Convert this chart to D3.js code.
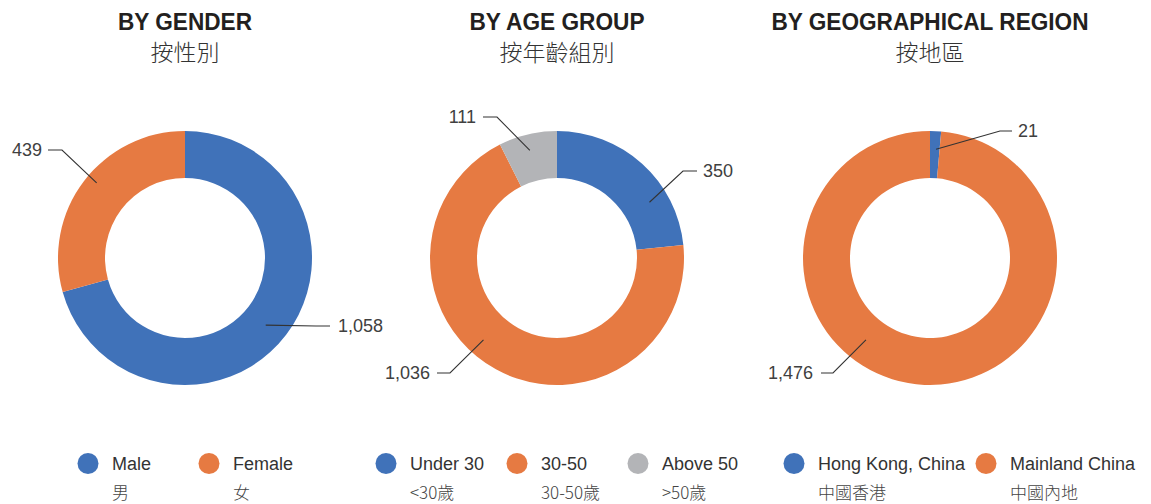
<!DOCTYPE html>
<html>
<head>
<meta charset="utf-8">
<script src="https://cdn.jsdelivr.net/npm/d3@7"></script>
<style>
  html, body { margin: 0; padding: 0; background: #fff; }
  svg { display: block; }
</style>
</head>
<body>
<svg id="chart" width="1151" height="504"></svg>
<script>
// ---- DATA ----
const genderLabels = ["Male", "Female"];
const genderLabelsZh = ["男", "女"];
const genderValues = [1058, 439];

const ageLabels = ["Under 30", "30-50", "Above 50"];
const ageLabelsZh = ["<30歲", "30-50歲", ">50歲"];
const ageValues = [350, 1036, 111];

const regionLabels = ["Hong Kong, China", "Mainland China"];
const regionLabelsZh = ["中國香港", "中國內地"];
const regionValues = [21, 1476];

const titlesEn = ["BY GENDER", "BY AGE GROUP", "BY GEOGRAPHICAL REGION"];
const titlesZh = ["按性別", "按年齡組別", "按地區"];

// ---- STYLE / LAYOUT ----
const blue = "#4072b9", orange = "#e67a42", grey = "#b3b4b7";
const panels = [
  { cx: 185, values: genderValues, labels: genderLabels, zh: genderLabelsZh, colors: [blue, orange],
    titleW: 134, legendX: [88, 209],
    callouts: [ { t: 0.51, r: 105, ex: 131, ey: 68, side: 1, h: 14, gap: 8 },
                { t: 0.53, r: 116, ex: -123, ey: -108, side: -1, h: 14, gap: 6 } ] },
  { cx: 557, values: ageValues, labels: ageLabels, zh: ageLabelsZh, colors: [blue, orange, grey],
    titleW: 175, legendX: [386, 517, 638],
    callouts: [ { t: 0.70, r: 108, ex: 126, ey: -87, side: 1, h: 14, gap: 6 },
                { t: 0.553, r: 110, ex: -107, ey: 115, side: -1, h: 13, gap: 7 },
                { t: 0.47, r: 111, ex: -60, ey: -141, side: -1, h: 14, gap: 7 } ] },
  { cx: 930, values: regionValues, labels: regionLabels, zh: regionLabelsZh, colors: [blue, orange],
    titleW: 317, legendX: [794, 986],
    callouts: [ { t: 0.63, r: 109, ex: 70, ey: -127, side: 1, h: 12, gap: 6 },
                { t: 0.6, r: 104, ex: -97, ey: 115, side: -1, h: 12, gap: 8 } ] }
];
const cy = 258, rOuter = 127, rInner = 80;
const fontLatin = "'Liberation Sans', Arial, sans-serif";
const fontCJK = "'Noto Sans CJK TC', 'Noto Sans CJK SC', sans-serif";
const fmt = d3.format(",");

const svg = d3.select("#chart");
const pie = d3.pie().sort(null).value(d => d);
const arc = d3.arc().innerRadius(rInner).outerRadius(rOuter);

panels.forEach((p, pi) => {
  // titles
  svg.append("text")
    .attr("x", p.cx).attr("y", 30)
    .attr("text-anchor", "middle")
    .attr("font-family", fontLatin).attr("font-weight", "bold").attr("font-size", 24)
    .attr("fill", "#231f20")
    .attr("textLength", p.titleW).attr("lengthAdjust", "spacingAndGlyphs")
    .text(titlesEn[pi]);
  svg.append("text")
    .attr("x", p.cx).attr("y", 61)
    .attr("text-anchor", "middle")
    .attr("font-family", fontCJK).attr("font-size", 23).attr("font-weight", 300)
    .attr("fill", "#333")
    .text(titlesZh[pi]);

  const g = svg.append("g").attr("transform", `translate(${p.cx},${cy})`);
  const arcs = pie(p.values);
  g.selectAll("path.slice").data(arcs).join("path")
    .attr("class", "slice")
    .attr("d", arc)
    .attr("fill", (d, i) => p.colors[i]);

  // callouts
  arcs.forEach((a, i) => {
    const c = p.callouts[i];
    const ang = a.startAngle + (a.endAngle - a.startAngle) * c.t;
    const ax = c.r * Math.sin(ang), ay = -c.r * Math.cos(ang);
    const hx = c.ex + c.side * c.h;
    g.append("polyline")
      .attr("points", `${ax},${ay} ${c.ex},${c.ey} ${hx},${c.ey}`)
      .attr("fill", "none").attr("stroke", "#333").attr("stroke-width", 1.1);
    g.append("text")
      .attr("x", hx + c.side * c.gap).attr("y", c.ey)
      .attr("dy", "0.36em")
      .attr("text-anchor", c.side > 0 ? "start" : "end")
      .attr("font-family", fontLatin).attr("font-size", 18)
      .attr("fill", "#404040")
      .text(fmt(a.data));
  });

  // legend
  p.labels.forEach((lab, i) => {
    const lx = p.legendX[i];
    svg.append("circle").attr("cx", lx).attr("cy", 463.5).attr("r", 10.5).attr("fill", p.colors[i]);
    svg.append("text")
      .attr("x", lx + 24).attr("y", 469.5)
      .attr("font-family", fontLatin).attr("font-size", 18).attr("fill", "#333")
      .text(lab);
    svg.append("text")
      .attr("x", lx + 24).attr("y", 499)
      .attr("font-family", fontCJK).attr("font-size", 17).attr("font-weight", 300).attr("fill", "#444")
      .text(p.zh[i]);
  });
});
</script>
</body>
</html>
